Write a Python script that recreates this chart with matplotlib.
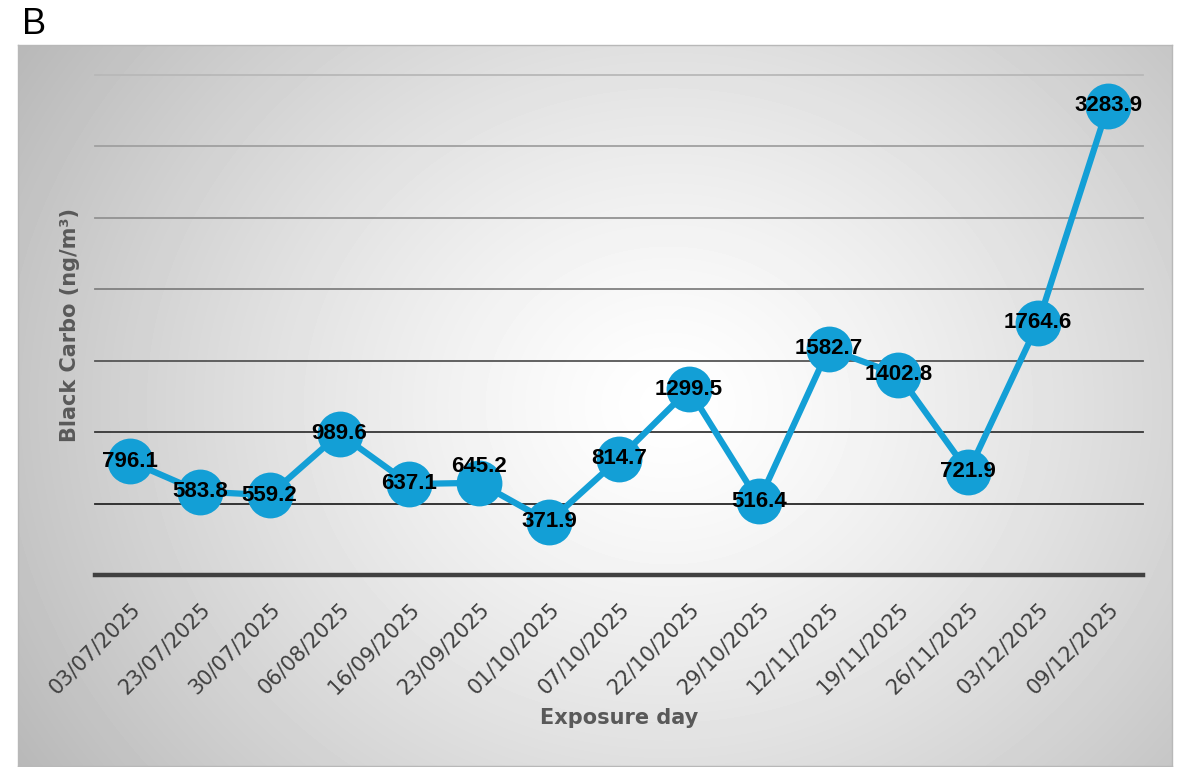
import numpy as np
import matplotlib
matplotlib.use("Agg")
import matplotlib.pyplot as plt

# black carbon per exposure day
days = ["03/07/2025", "23/07/2025", "30/07/2025", "06/08/2025", "16/09/2025",
        "23/09/2025", "01/10/2025", "07/10/2025", "22/10/2025", "29/10/2025",
        "12/11/2025", "19/11/2025", "26/11/2025", "03/12/2025", "09/12/2025"]
bc = [796.1, 583.8, 559.2, 989.6, 637.1, 645.2, 371.9, 814.7, 1299.5, 516.4,
      1582.7, 1402.8, 721.9, 1764.6, 3283.9]
grid_vals = [500, 1000, 1500, 2000, 2500, 3000, 3500]

W, H = 1186, 767
fig = plt.figure(figsize=(W / 100, H / 100), dpi=100)
fig.patch.set_facecolor("white")

# grey panel with a radial white glow
bg = fig.add_axes([18 / W, 1 - 766 / H, (1172 - 18) / W, (766 - 45) / H])
yy, xx = np.mgrid[0:721, 0:1154]
d = np.hypot(xx - 650, (yy - 360) * 1.15)
shade = 1 - 0.26 * np.clip(d / 730, 0, 1.2) ** 1.3
bg.imshow(shade, cmap="gray", vmin=0, vmax=1, aspect="auto", interpolation="bilinear")
bg.set_xticks([])
bg.set_yticks([])
for s in bg.spines.values():
    s.set_color("#b8b8b8")
    s.set_linewidth(1)

ax = fig.add_axes([95 / W, 1 - 575 / H, 1048 / W, 500 / H])
ax.patch.set_alpha(0)
x = np.arange(len(days))
ax.set_xlim(-0.5, len(days) - 0.5)
ax.set_ylim(0, 3500)

grid_cols = ["#262626", "#363636", "#555555", "#808080", "#929292", "#a0a0a0", "#b8b8b8"]
for v, c in zip(grid_vals, grid_cols):
    ax.axhline(v, color=c, lw=1.3, zorder=1, clip_on=False)
ax.axhline(0, color="#404040", lw=3.2, zorder=1, clip_on=False)

for s in ax.spines.values():
    s.set_visible(False)
ax.set_yticks([])
ax.set_xticks(x)
ax.set_xticklabels(days, fontsize=15, color="#404040")
ax.tick_params(axis="x", length=0, pad=17)
plt.setp(ax.get_xticklabels(), rotation=45, ha="right", va="top", rotation_mode="anchor")

ax.plot(x, bc, color="#139fd6", lw=4.5, marker="o", markersize=33,
        markeredgewidth=0, zorder=3, clip_on=False)

for i, v in enumerate(bc):
    dy = 12 if days[i] == "23/09/2025" else 0
    ax.annotate(f"{v:.1f}", (i, v), xytext=(0, dy), textcoords="offset points",
                ha="center", va="center", fontsize=16, fontweight="bold",
                family="Liberation Sans", color="black", zorder=4)

fig.text(619 / W, 1 - 718 / H, "Exposure day", ha="center", va="center",
         fontsize=15, fontweight="bold", color="#595959")
fig.text(70 / W, 1 - 325 / H, "Black Carbo (ng/m³)", ha="center", va="center",
         rotation=90, fontsize=15, fontweight="bold", color="#595959")
fig.text(22 / W, 1 - 24 / H, "B", ha="left", va="center", fontsize=26,
         family="Liberation Sans", color="black")

fig.savefig("out.png", dpi=100)
